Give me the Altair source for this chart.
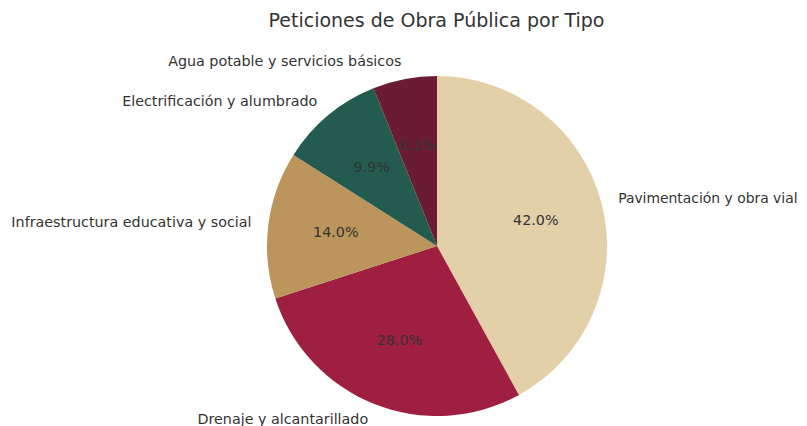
import altair as alt
import pandas as pd

categorias = [
    "Pavimentación y obra vial",
    "Drenaje y alcantarillado",
    "Infraestructura educativa y social",
    "Electrificación y alumbrado",
    "Agua potable y servicios básicos",
]
porcentajes = [42.0, 28.0, 14.0, 9.9, 6.1]
colores = ["#E3D0A8", "#9E1F40", "#BC955C", "#235B4E", "#691C32"]

df = pd.DataFrame({
    "categoria": categorias,
    "valor": porcentajes,
    "orden": list(range(len(categorias))),
})

CX, CY, R = 429, 198, 170
FONT = "DejaVu Sans"
FS = 14.3

base = alt.Chart(df).transform_window(
    cum="sum(valor)", sort=[alt.SortField("orden")], frame=[None, 0]
).transform_calculate(
    etiqueta="format(datum.valor, '.1f') + '%'",
    der="(datum.cum - datum.valor / 2) / 100 < 0.5 ? datum.categoria : ''",
    izq="(datum.cum - datum.valor / 2) / 100 >= 0.5 ? datum.categoria : ''",
).encode(
    theta=alt.Theta("valor:Q", stack=True),
    order=alt.Order("orden:Q", sort="ascending"),
)

arcs = base.mark_arc(outerRadius=R).encode(
    x=alt.value(CX),
    y=alt.value(CY),
    color=alt.Color("categoria:N", scale=alt.Scale(domain=categorias, range=colores), legend=None),
)

pct = base.mark_text(font=FONT, fontSize=FS, color="#333333", align="center", baseline="middle").encode(
    x=alt.value(CX),
    y=alt.value(CY),
    radius=alt.value(R * 0.6),
    text="etiqueta:N",
)

labels_right = base.mark_text(
    font=FONT, fontSize=13.9, color="#333333", align="left", baseline="middle"
).encode(
    x=alt.value(CX), y=alt.value(CY), radius=alt.value(R * 1.1), text="der:N"
)

labels_left = base.mark_text(
    font=FONT, fontSize=FS, color="#333333", align="right", baseline="middle"
).encode(
    x=alt.value(CX), y=alt.value(CY), radius=alt.value(R * 1.1), text="izq:N"
)

chart = alt.layer(arcs, pct, labels_right, labels_left).properties(
    width=791,
    height=378,
    title=alt.TitleParams(
        "Peticiones de Obra Pública por Tipo",
        font=FONT, fontSize=19, fontWeight="normal", color="#333333",
        anchor="middle", dx=33, offset=17,
    ),
    autosize=alt.AutoSizeParams(type="none"),
    padding={"top": 40, "left": 0, "right": 0, "bottom": 0},
).configure_view(stroke=None)

chart.save("out.html", embed_options={"renderer": "svg", "actions": False})
